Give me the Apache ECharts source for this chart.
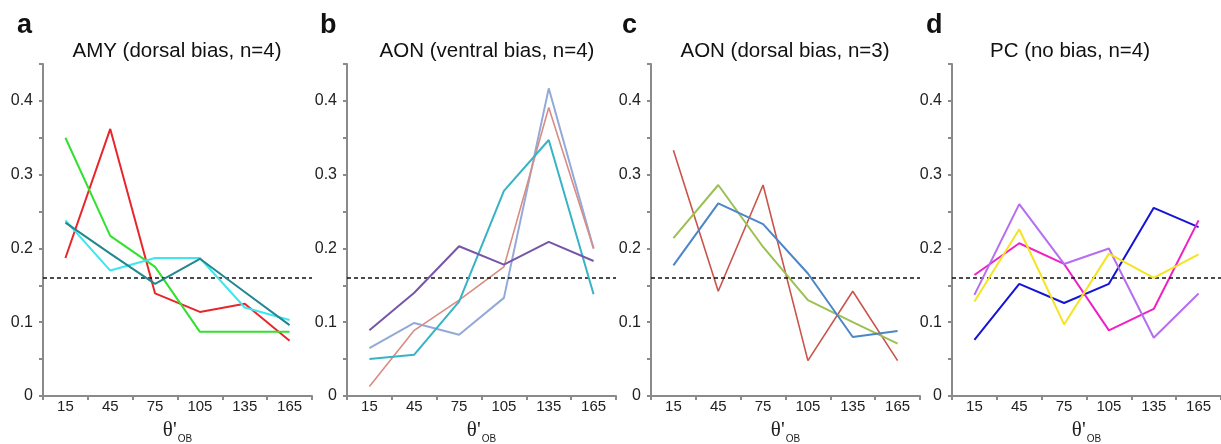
<!DOCTYPE html>
<html>
<head>
<meta charset="utf-8">
<script src="https://cdn.jsdelivr.net/npm/echarts@6/dist/echarts.min.js"></script>
<style>
  html, body { margin: 0; padding: 0; background: #ffffff; }
  #chart { width: 1221px; height: 444px; }
</style>
</head>
<body>
<div id="chart"></div>
<script>
// ---------- data ----------
const categories = ['15', '45', '75', '105', '135', '165'];
const yTickLabels = ['0', '0.1', '0.2', '0.3', '0.4'];
const chanceLevel = 0.1645;

const panelLetters = ['a', 'b', 'c', 'd'];
const panelTitles = ['AMY (dorsal bias, n=4)', 'AON (ventral bias, n=4)', 'AON (dorsal bias, n=3)', 'PC (no bias, n=4)'];

// panel a: AMY dorsal bias
const amyRed   = [0.187, 0.362, 0.139, 0.114, 0.125, 0.075];
const amyGreen = [0.350, 0.217, 0.175, 0.087, 0.087, 0.087];
const amyCyan  = [0.238, 0.170, 0.187, 0.187, 0.120, 0.103];
const amyTeal  = [0.235, 0.193, 0.152, 0.186, 0.141, 0.096];

// panel b: AON ventral bias
const aonVLavender = [0.065, 0.099, 0.083, 0.133, 0.417, 0.200];
const aonVSalmon   = [0.013, 0.089, 0.130, 0.175, 0.391, 0.200];
const aonVTeal     = [0.050, 0.056, 0.128, 0.278, 0.347, 0.138];
const aonVPurple   = [0.089, 0.140, 0.203, 0.178, 0.209, 0.183];

// panel c: AON dorsal bias
const aonDRed   = [0.333, 0.142, 0.286, 0.048, 0.142, 0.048];
const aonDGreen = [0.214, 0.286, 0.202, 0.130, 0.100, 0.071];
const aonDBlue  = [0.177, 0.261, 0.233, 0.166, 0.080, 0.088];

// panel d: PC no bias
const pcBlue    = [0.076, 0.152, 0.126, 0.152, 0.255, 0.229];
const pcMagenta = [0.164, 0.207, 0.179, 0.089, 0.118, 0.238];
const pcViolet  = [0.137, 0.260, 0.179, 0.200, 0.079, 0.139];
const pcYellow  = [0.128, 0.226, 0.097, 0.193, 0.160, 0.192];

// ---------- styling / layout ----------
const panelSeries = [
  [ {d: amyRed, c: '#e8262a', w: 2}, {d: amyGreen, c: '#33e030', w: 2}, {d: amyCyan, c: '#3ee6ee', w: 2}, {d: amyTeal, c: '#22878e', w: 2} ],
  [ {d: aonVLavender, c: '#93a9d8', w: 2}, {d: aonVSalmon, c: '#d98c82', w: 1.6}, {d: aonVTeal, c: '#38b3c6', w: 2}, {d: aonVPurple, c: '#7656a8', w: 2} ],
  [ {d: aonDRed, c: '#c9544c', w: 1.6}, {d: aonDGreen, c: '#9cc052', w: 2}, {d: aonDBlue, c: '#4a86c8', w: 2} ],
  [ {d: pcBlue, c: '#1414d6', w: 2}, {d: pcMagenta, c: '#ee22c4', w: 2}, {d: pcViolet, c: '#b56ef0', w: 2}, {d: pcYellow, c: '#f4e422', w: 2} ]
];
const gridLefts = [43, 347, 651, 952];
const gridWidth = 269;
const titleCenters = [172, 482, 780, 1065];
const letterLefts = [12, 315, 617, 921];

const chart = echarts.init(document.getElementById('chart'), null, {renderer: 'canvas'});

const grids = [], xAxes = [], yAxes = [], series = [], titles = [];
const axisGray = '#8a8a8a';
const sans = '"Liberation Sans", Arial, sans-serif';

for (let p = 0; p < 4; p++) {
  grids.push({left: gridLefts[p], width: gridWidth, top: 64, bottom: 48, outerBoundsMode: 'none'});
  xAxes.push({
    type: 'category', gridIndex: p, data: categories, boundaryGap: true,
    axisLine: {lineStyle: {color: axisGray, width: 2}},
    axisTick: {show: true, length: 4, lineStyle: {color: axisGray, width: 2}},
    axisLabel: {color: '#222', fontSize: 15, fontFamily: sans, margin: 3},
    name: '{t|θ\'}{s|OB}', nameLocation: 'middle', nameGap: 20,
    nameTextStyle: {
      rich: {
        t: {fontFamily: '"Liberation Serif", "Times New Roman", serif', fontSize: 21, color: '#222'},
        s: {fontFamily: sans, fontSize: 10, color: '#222', padding: [18, 0, 0, 1]}
      }
    }
  });
  yAxes.push({
    type: 'value', gridIndex: p, min: 0, max: 0.45, interval: 0.05,
    axisLine: {show: true, lineStyle: {color: axisGray, width: 2}},
    axisTick: {show: true, length: 4, lineStyle: {color: axisGray, width: 2}},
    splitLine: {show: false},
    axisLabel: {
      color: '#222', fontSize: 16, fontFamily: sans, margin: 10,
      formatter: function (v) {
        const k = Math.round(v * 10);
        if (Math.abs(v * 10 - k) > 1e-6) return '';
        return yTickLabels[k] !== undefined ? yTickLabels[k] : '';
      }
    }
  });
  panelSeries[p].forEach(function (s, i) {
    const ser = {
      type: 'line', xAxisIndex: p, yAxisIndex: p, data: s.d,
      symbol: 'none', lineStyle: {color: s.c, width: s.w}, itemStyle: {color: s.c},
      z: 3 + i, silent: true
    };
    if (i === 0) {
      ser.markLine = {
        silent: true, symbol: 'none', label: {show: false},
        lineStyle: {color: '#111', type: [4, 3], width: 1.6},
        data: [{yAxis: chanceLevel}]
      };
    }
    series.push(ser);
  });
  titles.push({
    text: panelTitles[p], left: titleCenters[p], top: 36, textAlign: 'center',
    textStyle: {fontFamily: sans, fontSize: 20.5, fontWeight: 'normal', color: '#111'}
  });
  titles.push({
    text: panelLetters[p], left: letterLefts[p], top: 7,
    textStyle: {fontFamily: sans, fontSize: 27, fontWeight: 'bold', color: '#111'}
  });
}

chart.setOption({
  animation: false,
  backgroundColor: '#ffffff',
  title: titles,
  grid: grids,
  xAxis: xAxes,
  yAxis: yAxes,
  series: series
});
</script>
</body>
</html>
